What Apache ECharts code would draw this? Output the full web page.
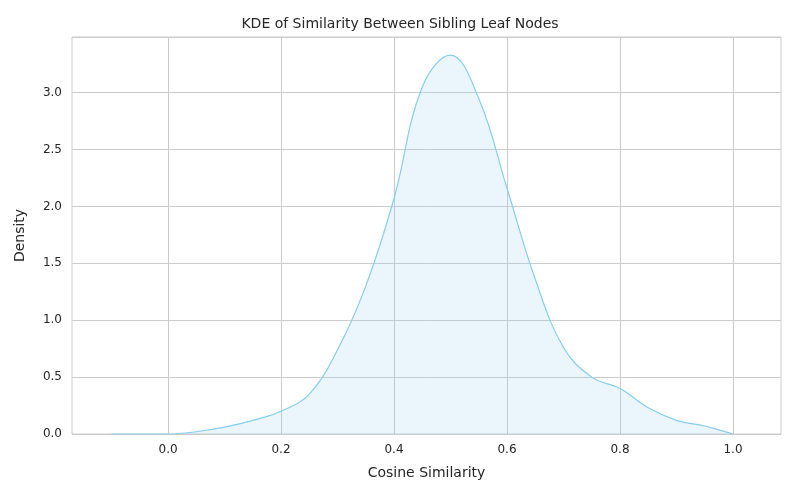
<!DOCTYPE html>
<html lang="en">
<head>
<meta charset="UTF-8">
<title>KDE</title>
<style>
  *{margin:0;padding:0;}
  body,html{width:100%;height:100%;background:#fff;}
  #chart{width:800px;height:500px;}
</style>
</head>
<body>
<div id="chart"></div>
<script src="https://cdn.jsdelivr.net/npm/echarts@6/dist/echarts.min.js"></script>
<script>
var xs = [-0.1, 0.0, 0.05, 0.1, 0.15, 0.2, 0.25, 0.3, 0.35, 0.4, 0.45, 0.5, 0.55, 0.6, 0.65, 0.7, 0.75, 0.8, 0.85, 0.9, 0.95, 0.98, 1.0];
var density = [0, 0.0, 0.02, 0.06, 0.12, 0.2, 0.35, 0.74, 1.3, 2.07, 3.05, 3.33, 2.95, 2.16, 1.36, 0.76, 0.5, 0.4, 0.23, 0.12, 0.07, 0.03, 0.0];
var xTicks = [0.0, 0.2, 0.4, 0.6, 0.8, 1.0];

var pts = [];
for (var i = 0; i < xs.length; i++) pts.push([xs[i], density[i]]);

var option = {
  animation: false,
  title: {text: 'KDE of Similarity Between Sibling Leaf Nodes', left: 'center', top: 12,
    textStyle: {fontSize: 14, fontWeight: 'normal', color: '#262626', fontFamily: 'DejaVu Sans'}},
  grid: {left: 72, right: 19, top: 37, bottom: 66, show: true, borderColor: '#cccccc', borderWidth: 1},
  xAxis: {
    type: 'value', min: -0.17, max: 1.085,
    name: 'Cosine Similarity', nameLocation: 'middle', nameGap: 32,
    nameTextStyle: {fontSize: 14, color: '#262626', fontFamily: 'DejaVu Sans'},
    axisLine: {show: false}, axisTick: {show: false}, splitLine: {show: false},
    axisLabel: {customValues: xTicks, color: '#262626', fontSize: 12, fontFamily: 'DejaVu Sans', margin: 10,
      formatter: function (v) { return v.toFixed(1); }}
  },
  yAxis: {
    type: 'value', min: 0, max: 3.49, interval: 0.5,
    name: 'Density', nameLocation: 'middle', nameGap: 45,
    nameTextStyle: {fontSize: 14, color: '#262626', fontFamily: 'DejaVu Sans'},
    axisLine: {show: false}, axisTick: {show: false},
    splitLine: {lineStyle: {color: '#cccccc', width: 1}},
    axisLabel: {showMaxLabel: false, color: '#262626', fontSize: 12, fontFamily: 'DejaVu Sans', margin: 10,
      formatter: function (v) { return v.toFixed(1); }}
  },
  series: [{
    type: 'line', data: pts, smooth: 0.4, symbol: 'none',
    lineStyle: {color: '#87CEEB', width: 1.2},
    areaStyle: {color: 'rgba(135,206,235,0.25)'},
    markLine: {
      silent: true, symbol: 'none', label: {show: false}, z: 0,
      lineStyle: {color: '#cccccc', type: 'solid', width: 1},
      data: xTicks.map(function (v) { return {xAxis: v}; })
    }
  }]
};
var myChart = echarts.init(document.getElementById('chart'));
myChart.setOption(option);
</script>
</body>
</html>
